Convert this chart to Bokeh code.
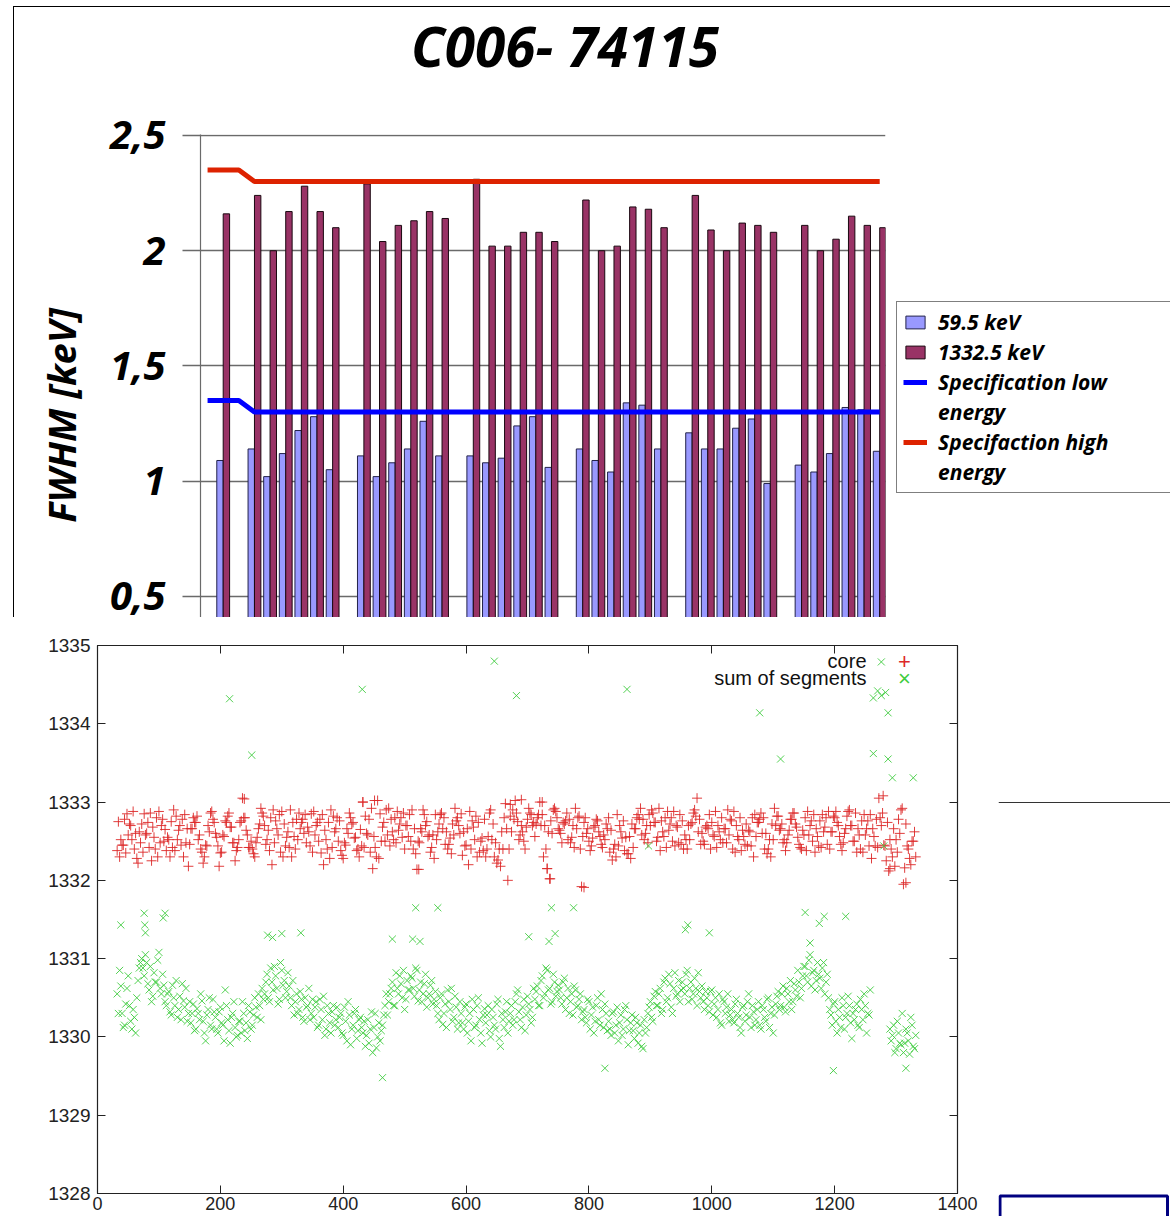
import numpy as np
from bokeh.plotting import figure
from bokeh.layouts import column, row
from bokeh.models import (Range1d, FixedTicker, LinearAxis, Label, BoxAnnotation, Span,
                          CustomJSTickFormatter, Legend, LegendItem, Div)
from bokeh.embed import file_html
from bokeh.resources import INLINE

nan = float("nan")

# ---------------- top chart data ----------------
title_text = "C006- 74115"
channels = ["core",
            "A1", "A2", "A3", "A4", "A5", "A6",
            "B1", "B2", "B3", "B4", "B5", "B6",
            "C1", "C2", "C3", "C4", "C5", "C6",
            "D1", "D2", "D3", "D4", "D5", "D6",
            "E1", "E2", "E3", "E4", "E5", "E6",
            "F1", "F2", "F3", "F4", "F5", "F6"]
fwhm_59 = [1.09,
           1.14, 1.02, 1.12, 1.22, 1.28, 1.05,
           1.11, 1.02, 1.08, 1.14, 1.26, 1.11,
           1.11, 1.08, 1.10, 1.24, 1.28, 1.06,
           1.14, 1.09, 1.04, 1.34, 1.33, 1.14,
           1.21, 1.14, 1.14, 1.23, 1.27, 0.99,
           1.07, 1.04, 1.12, 1.32, 1.31, 1.13]
fwhm_1332 = [2.16,
             2.24, 2.00, 2.17, 2.28, 2.17, 2.10,
             2.29, 2.04, 2.11, 2.13, 2.17, 2.14,
             2.31, 2.02, 2.02, 2.08, 2.08, 2.04,
             2.22, 2.00, 2.02, 2.19, 2.18, 2.10,
             2.24, 2.09, 2.00, 2.12, 2.11, 2.08,
             2.11, 2.00, 2.05, 2.15, 2.11, 2.10]
spec_low = [1.35, 1.35, 1.35, 1.30, 1.30, 1.30, 1.30, 1.30, 1.30, 1.30, 1.30,
            1.30, 1.30, 1.30, 1.30, 1.30, 1.30, 1.30, 1.30, 1.30, 1.30, 1.30,
            1.30, 1.30, 1.30, 1.30, 1.30, 1.30, 1.30, 1.30, 1.30, 1.30, 1.30,
            1.30, 1.30, 1.30, 1.30, 1.30, 1.30, 1.30, 1.30, 1.30, 1.30, 1.30]
spec_high = [2.35, 2.35, 2.35, 2.30, 2.30, 2.30, 2.30, 2.30, 2.30, 2.30, 2.30,
             2.30, 2.30, 2.30, 2.30, 2.30, 2.30, 2.30, 2.30, 2.30, 2.30, 2.30,
             2.30, 2.30, 2.30, 2.30, 2.30, 2.30, 2.30, 2.30, 2.30, 2.30, 2.30,
             2.30, 2.30, 2.30, 2.30, 2.30, 2.30, 2.30, 2.30, 2.30, 2.30, 2.30]
fwhm_ticks = [0.5, 1.0, 1.5, 2.0, 2.5]
fwhm_axis_title = "FWHM [keV]"
series_labels = ["59.5 keV", "1332.5 keV", "Specification low", "energy",
                 "Specifaction high", "energy"]

# ---------------- bottom chart data ----------------
# two interleaved samplings of the run index
core_a = [
    1332.38, 1332.30, 1332.45, 1332.78, 1332.85, 1332.72, 1332.52, 1332.40, 1332.28, 1332.62,
    1332.72, 1332.85, 1332.60, 1332.42, 1332.25, 1332.55, 1332.80, 1332.88, 1332.70, 1332.50,
    1332.38, 1332.52, 1332.75, 1332.90, 1332.82, 1332.64, 1332.45, 1332.30, 1332.48, 1332.18,
    1332.66, 1332.80, 1332.74, 1332.52, 1332.40, 1332.22, 1332.45, 1332.70, 1332.86, 1332.78,
    1332.60, 1332.44, 1332.35, 1332.58, 1332.76, 1332.82, 1332.68, 1332.48, 1332.25, 1332.42,
    1332.74, 1333.05, 1332.80, 1332.58, 1332.42, 1332.40, 1332.30, 1332.55, 1332.72, 1332.86,
    1332.70, 1332.52, 1332.38, 1332.20, 1332.48, 1332.66, 1332.84, 1332.88, 1332.72, 1332.55,
    1332.42, 1332.30, 1332.56, 1332.78, 1332.86, 1332.74, 1332.60, 1332.48, 1332.62, 1332.85,
    1332.88, 1332.70, 1332.50, 1332.35, 1332.20, 1332.52, 1332.74, 1332.90, 1332.82, 1332.66,
    1332.50, 1332.38, 1332.28, 1332.45, 1332.60, 1332.80, 1332.74, 1332.55, 1332.40, 1332.65,
    1333.00, 1332.82, 1332.58, 1332.36, 1332.15, 1332.42, 1333.02, 1332.85, 1332.68, 1332.50,
    1332.58, 1332.44, 1332.62, 1332.80, 1332.88, 1332.72, 1332.55, 1332.40, 1332.70, 1332.84,
    1332.90, 1332.66, 1332.14, 1332.48, 1332.62, 1332.84, 1332.75, 1332.58, 1332.42, 1332.28,
    1332.52, 1332.72, 1332.86, 1332.80, 1332.62, 1332.46, 1332.34, 1332.58, 1332.76, 1332.70,
    1332.85, 1332.62, 1332.45, 1332.20, 1332.40, 1332.68, 1332.82, 1332.74, 1332.50, 1332.38,
    1332.30, 1332.56, 1332.90, 1332.72, 1332.48, 1332.26, 1332.18, 1332.40, 1332.98, 1332.00,
    1332.82, 1332.90, 1333.02, 1332.75, 1332.58, 1332.62, 1332.40, 1332.78, 1332.86, 1332.70,
    1332.56, 1332.80, 1333.00, 1332.84, 1332.70, 1332.15, 1332.02, 1332.60, 1332.92, 1332.80,
    1332.64, 1332.48, 1332.72, 1332.86, 1332.78, 1332.55, 1332.42, 1332.66, 1332.82, 1331.92,
    1332.74, 1332.60, 1332.50, 1332.44, 1332.68, 1332.78, 1332.62, 1332.46, 1332.58, 1332.72,
    1332.80, 1332.64, 1332.40, 1332.30, 1332.44, 1332.62, 1332.76, 1332.55, 1332.34, 1332.28,
    1332.42, 1332.66, 1332.84, 1332.92, 1332.78, 1332.60, 1332.48, 1332.70, 1332.86, 1332.74,
    1332.55, 1332.38, 1332.62, 1332.80, 1332.88, 1332.72, 1332.50, 1332.44, 1332.68, 1332.84,
    1332.76, 1332.58, 1332.40, 1332.52, 1332.74, 1332.90, 1333.05, 1332.78, 1332.60, 1332.46,
    1332.70, 1332.84, 1332.74, 1332.56, 1332.42, 1332.62, 1332.80, 1332.66, 1332.48, 1332.58,
    1332.76, 1332.88, 1332.70, 1332.52, 1332.38, 1332.56, 1332.72, 1332.64, 1332.44, 1332.30,
    1332.56, 1332.74, 1332.86, 1332.80, 1332.60, 1332.40, 1332.30, 1332.52, 1332.70, 1332.82,
    1332.66, 1332.48, 1332.38, 1332.58, 1332.78, 1332.86, 1332.72, 1332.55, 1332.42, 1332.64,
    1332.80, 1332.88, 1332.70, 1332.50, 1332.36, 1332.56, 1332.76, 1332.84, 1332.68, 1332.46,
    1332.40, 1332.62, 1332.80, 1332.74, 1332.56, 1332.38, 1332.60, 1332.82, 1332.90, 1332.70,
    1332.50, 1332.36, 1332.58, 1332.76, 1332.84, 1332.66, 1332.44, 1332.28, 1332.56, 1332.78,
    1333.05, 1332.70, 1332.45, 1332.25, 1332.12, 1332.40, 1332.66, 1332.52, 1332.78, 1332.90,
    1331.95, 1332.72, 1332.40, 1332.20, 1332.50, 1332.30]
core_b = [
    1332.75, 1332.52, 1332.45, 1332.35, 1332.58, 1332.70, 1332.88, 1332.60, 1332.22, 1332.48,
    1332.36, 1332.58, 1332.74, 1332.86, 1332.68, 1332.40, 1332.30, 1332.48, 1332.78, 1332.65,
    1332.55, 1332.30, 1332.42, 1332.38, 1332.52, 1332.70, 1332.78, 1332.84, 1332.66, 1332.46,
    1332.66, 1332.74, 1332.82, 1332.58, 1332.36, 1332.30, 1332.44, 1332.62, 1332.88, 1332.74,
    1332.55, 1332.18, 1332.36, 1332.56, 1332.74, 1332.86, 1332.68, 1332.48, 1332.38, 1332.52,
    1332.76, 1332.80, 1332.64, 1332.42, 1332.50, 1332.34, 1332.48, 1332.66, 1332.92, 1332.82,
    1332.46, 1332.64, 1332.80, 1332.90, 1332.76, 1332.58, 1332.36, 1332.30, 1332.44, 1332.62,
    1332.90, 1332.74, 1332.40, 1332.52, 1332.66, 1332.78, 1332.84, 1332.68, 1332.44, 1332.36,
    1332.58, 1332.74, 1332.78, 1332.84, 1332.64, 1332.40, 1332.28, 1332.42, 1332.62, 1332.80,
    1332.76, 1332.32, 1332.48, 1332.66, 1332.86, 1332.72, 1332.54, 1332.38, 1332.30, 1332.44,
    1332.42, 1332.60, 1332.78, 1332.92, 1332.56, 1332.30, 1332.28, 1332.50, 1332.74, 1332.90,
    1332.92, 1332.78, 1332.52, 1332.48, 1332.64, 1332.80, 1332.86, 1332.70, 1332.56, 1332.50,
    1332.40, 1332.34, 1332.50, 1332.66, 1332.90, 1332.70, 1332.56, 1332.36, 1332.58, 1332.84,
    1332.62, 1332.84, 1332.66, 1332.46, 1332.40, 1332.54, 1332.72, 1332.92, 1332.80, 1332.60,
    1332.32, 1332.44, 1332.66, 1332.88, 1332.76, 1332.52, 1332.30, 1332.36, 1332.54, 1332.78,
    1332.40, 1332.86, 1332.52, 1332.30, 1332.22, 1332.40, 1332.62, 1332.80, 1332.66, 1332.40,
    1332.62, 1332.78, 1332.86, 1332.52, 1332.70, 1332.50, 1332.68, 1332.92, 1332.84, 1332.74,
    1332.72, 1332.84, 1332.70, 1332.30, 1332.40, 1332.62, 1332.76, 1332.90, 1332.88, 1332.66,
    1332.60, 1332.74, 1332.76, 1332.52, 1332.48, 1332.70, 1332.92, 1332.80, 1332.40, 1332.56,
    1332.80, 1332.66, 1332.38, 1332.54, 1332.70, 1332.76, 1332.56, 1332.42, 1332.52, 1332.66,
    1332.36, 1332.26, 1332.46, 1332.84, 1332.70, 1332.54, 1332.38, 1332.34, 1332.56, 1332.72,
    1332.66, 1332.80, 1332.78, 1332.58, 1332.52, 1332.70, 1332.84, 1332.90, 1332.74, 1332.50,
    1332.92, 1332.76, 1332.56, 1332.42, 1332.64, 1332.80, 1332.88, 1332.70, 1332.48, 1332.46,
    1332.40, 1332.52, 1332.70, 1332.72, 1332.86, 1332.82, 1332.62, 1332.46, 1332.50, 1332.68,
    1332.66, 1332.40, 1332.58, 1332.88, 1332.70, 1332.52, 1332.48, 1332.66, 1332.90, 1332.78,
    1332.40, 1332.36, 1332.56, 1332.80, 1332.64, 1332.46, 1332.44, 1332.62, 1332.80, 1332.84,
    1332.74, 1332.78, 1332.60, 1332.40, 1332.34, 1332.52, 1332.72, 1332.92, 1332.82, 1332.64,
    1332.72, 1332.52, 1332.48, 1332.64, 1332.78, 1332.86, 1332.68, 1332.46, 1332.40, 1332.58,
    1332.38, 1332.58, 1332.76, 1332.84, 1332.66, 1332.44, 1332.42, 1332.62, 1332.80, 1332.88,
    1332.62, 1332.82, 1332.88, 1332.70, 1332.46, 1332.48, 1332.66, 1332.88, 1332.70, 1332.50,
    1332.86, 1332.66, 1332.40, 1332.36, 1332.58, 1332.76, 1332.84, 1332.66, 1332.44, 1332.42,
    1332.80, 1332.86, 1332.44, 1332.74, 1332.52, 1332.30, 1332.18, 1332.36, 1332.60, 1332.92,
    1332.16, 1332.44, 1332.28, 1332.50, 1332.62]
sum_a = [
    1330.55, 1330.85, 1330.30, 1330.15, 1330.62, 1330.40, 1330.10, 1330.25, 1330.50, 1330.88,
    1331.00, 1330.78, 1330.95, 1330.60, 1330.45, 1330.82, 1330.70, 1331.08, 1330.55, 1330.66,
    1330.40, 1330.58, 1330.28, 1330.50, 1330.72, 1330.35, 1330.22, 1330.46, 1330.62, 1330.30,
    1330.18, 1330.42, 1330.10, 1330.30, 1330.55, 1330.20, 1329.95, 1330.35, 1330.15, 1330.48,
    1330.25, 1330.05, 1330.38, 1330.15, 1330.60, 1330.22, 1329.92, 1330.30, 1330.12, 1330.02,
    1330.20, 1330.45, 1330.08, 1329.98, 1330.32, 1330.15, 1330.50, 1330.25, 1330.40, 1330.62,
    1330.55, 1330.80, 1330.45, 1330.70, 1330.90, 1330.62, 1330.48, 1330.85, 1330.72, 1330.58,
    1330.65, 1330.40, 1330.28, 1330.55, 1330.35, 1330.48, 1330.20, 1330.38, 1330.62, 1330.30,
    1330.25, 1330.45, 1330.15, 1330.35, 1330.52, 1330.10, 1330.30, 1330.05, 1330.40, 1330.22,
    1330.12, 1330.30, 1330.02, 1330.20, 1330.45, 1329.90, 1330.15, 1330.35, 1330.08, 1330.25,
    1330.05, 1329.88, 1330.22, 1330.10, 1329.80, 1330.30, 1330.00, 1329.95, 1330.15, 1330.40,
    1330.28, 1330.55, 1330.70, 1330.40, 1330.62, 1330.78, 1330.50, 1330.35, 1330.72, 1330.60,
    1330.75, 1330.52, 1330.85, 1330.60, 1330.45, 1330.68, 1330.38, 1330.55, 1330.72, 1330.48,
    1330.40, 1330.22, 1330.55, 1330.30, 1330.12, 1330.45, 1330.62, 1330.25, 1330.38, 1330.18,
    1330.30, 1330.10, 1330.42, 1330.20, 1329.95, 1330.35, 1330.15, 1330.50, 1330.05, 1330.28,
    1330.18, 1330.40, 1330.00, 1330.25, 1330.10, 1330.48, 1329.88, 1330.22, 1330.32, 1330.05,
    1330.30, 1330.15, 1330.45, 1330.60, 1330.22, 1330.38, 1330.08, 1330.52, 1330.35, 1330.25,
    1330.48, 1330.65, 1330.40, 1330.78, 1330.55, 1330.85, 1330.62, 1330.45, 1330.70, 1330.58,
    1330.60, 1330.42, 1330.75, 1330.50, 1330.30, 1330.55, 1330.65, 1330.38, 1330.48, 1330.22,
    1330.35, 1330.18, 1330.45, 1330.28, 1330.05, 1330.40, 1330.22, 1330.55, 1330.12, 1330.30,
    1330.20, 1330.02, 1330.32, 1330.15, 1329.95, 1330.28, 1330.10, 1330.40, 1329.90, 1330.18,
    1330.08, 1330.25, 1329.92, 1330.15, 1329.85, 1330.05, 1330.30, 1330.45, 1330.20, 1330.58,
    1330.40, 1330.62, 1330.35, 1330.75, 1330.50, 1330.68, 1330.30, 1330.82, 1330.55, 1330.45,
    1330.70, 1330.55, 1330.85, 1330.62, 1330.48, 1330.75, 1330.40, 1330.58, 1330.65, 1330.35,
    1330.50, 1330.32, 1330.60, 1330.42, 1330.25, 1330.55, 1330.15, 1330.45, 1330.38, 1330.20,
    1330.35, 1330.18, 1330.48, 1330.25, 1330.05, 1330.40, 1330.28, 1330.55, 1330.12, 1330.32,
    1330.22, 1330.45, 1330.10, 1330.35, 1330.20, 1330.50, 1330.30, 1330.05, 1330.42, 1330.58,
    1330.40, 1330.65, 1330.32, 1330.55, 1330.72, 1330.45, 1330.60, 1330.85, 1330.50, 1330.78,
    1330.90, 1330.70, 1331.05, 1330.82, 1330.60, 1330.95, 1330.75, 1330.88, 1330.55, 1330.80,
    1330.35, 1330.15, 1330.45, 1330.05, 1330.25, 1330.50, 1330.10, 1330.30, 1330.40, 1329.98,
    1330.22, 1330.42, 1330.12, 1330.35, 1330.55, 1330.05, 1330.28, nan, nan, nan,
    nan, nan, nan, nan, nan, 1329.95, 1330.15, 1329.85, 1330.05, 1329.90,
    1329.80, 1330.10, 1329.95, 1330.25, 1329.88, 1330.02]
sum_b = [
    1330.30, 1330.65, 1330.12, 1330.42, 1330.78, 1330.20, 1330.35, 1330.05, 1330.72, 1330.95,
    1330.88, 1331.05, 1330.68, 1330.90, 1330.52, 1330.70, 1330.98, 1330.62, 1330.80, 1330.45,
    1330.55, 1330.32, 1330.66, 1330.40, 1330.25, 1330.52, 1330.68, 1330.38, 1330.20, 1330.45,
    1330.30, 1330.08, 1330.36, 1330.22, 1330.46, 1330.05, 1330.28, 1330.50, 1330.10, 1330.32,
    1330.10, 1330.32, 1330.18, 1329.95, 1330.40, 1330.08, 1330.25, 1330.45, 1330.00, 1330.20,
    1330.05, 1330.30, 1330.18, 1330.40, 1330.10, 1330.28, 1330.38, 1330.55, 1330.22, 1330.48,
    1330.70, 1330.50, 1330.88, 1330.60, 1330.78, 1330.42, 1330.95, 1330.66, 1330.50, 1330.82,
    1330.50, 1330.72, 1330.45, 1330.30, 1330.58, 1330.25, 1330.50, 1330.40, 1330.22, 1330.48,
    1330.38, 1330.12, 1330.48, 1330.22, 1330.02, 1330.40, 1330.18, 1330.32, 1330.15, 1330.38,
    1330.25, 1330.05, 1330.38, 1329.95, 1330.28, 1330.10, 1330.30, 1329.98, 1330.22, 1330.12,
    1330.20, 1330.02, 1329.92, 1330.32, 1330.12, 1329.86, 1330.18, 1330.08, 1330.28, 1330.55,
    1330.45, 1330.62, 1330.40, 1330.82, 1330.55, 1330.68, 1330.85, 1330.48, 1330.60, 1330.78,
    1330.62, 1330.88, 1330.46, 1330.70, 1330.55, 1330.80, 1330.50, 1330.66, 1330.42, 1330.58,
    1330.30, 1330.50, 1330.16, 1330.42, 1330.60, 1330.35, 1330.20, 1330.52, 1330.10, 1330.45,
    1330.18, 1330.38, 1330.05, 1330.30, 1330.48, 1330.12, 1330.40, 1330.22, 1329.92, 1330.36,
    1330.28, 1330.08, 1330.35, 1330.15, 1330.42, 1329.98, 1330.30, 1330.12, 1330.45, 1330.20,
    1330.40, 1330.22, 1330.55, 1330.32, 1330.12, 1330.48, 1330.28, 1330.42, 1330.18, 1330.62,
    1330.58, 1330.40, 1330.72, 1330.50, 1330.88, 1330.60, 1330.42, 1330.80, 1330.52, 1330.66,
    1330.50, 1330.70, 1330.35, 1330.62, 1330.45, 1330.28, 1330.60, 1330.40, 1330.55, 1330.32,
    1330.25, 1330.48, 1330.10, 1330.38, 1330.20, 1330.50, 1330.15, 1330.35, 1330.42, 1330.08,
    1330.10, 1330.30, 1330.05, 1330.38, 1330.18, 1330.02, 1330.35, 1330.22, 1330.08, 1330.28,
    1329.98, 1330.18, 1330.05, 1329.88, 1330.22, 1330.12, 1330.38, 1330.25, 1330.52, 1330.40,
    1330.55, 1330.30, 1330.70, 1330.45, 1330.80, 1330.38, 1330.62, 1330.52, 1330.72, 1330.60,
    1330.62, 1330.80, 1330.45, 1330.70, 1330.55, 1330.62, 1330.82, 1330.50, 1330.45, 1330.58,
    1330.40, 1330.58, 1330.28, 1330.50, 1330.35, 1330.18, 1330.48, 1330.30, 1330.55, 1330.28,
    1330.22, 1330.42, 1330.30, 1330.12, 1330.38, 1330.20, 1330.45, 1330.25, 1330.40, 1330.15,
    1330.35, 1330.15, 1330.40, 1330.25, 1330.48, 1330.12, 1330.38, 1330.28, 1330.52, 1330.35,
    1330.55, 1330.38, 1330.62, 1330.45, 1330.35, 1330.68, 1330.52, 1330.70, 1330.62, 1330.90,
    1330.78, 1330.98, 1330.65, 1330.85, 1330.72, 1330.80, 1330.62, 1330.95, 1330.70, 1330.50,
    1330.28, 1330.42, 1330.20, 1330.35, 1330.12, 1330.40, 1330.25, 1330.52, 1330.18, 1330.30,
    1330.35, 1330.15, 1330.48, 1330.22, 1330.40, 1330.30, 1330.60, nan, nan, nan,
    nan, nan, nan, nan, 1330.10, 1330.02, 1329.80, 1330.20, 1329.92, 1330.30,
    1329.92, 1330.05, 1329.78, 1330.15, 1329.85]
core_out_x = [239, 432, 451, 523, 672, 690, 724, 732, 737, 792, 1279, 1290, 1316]
core_out_y = [1333.04, 1333.00, 1333.02, 1332.14, 1332.97, 1333.03, 1333.00, 1332.15,
              1332.02, 1331.91, 1333.08, 1332.15, 1331.97]
sum_out_x = [38, 76, 77, 78, 107, 110, 215, 251, 277, 285, 300, 331, 431, 464, 480, 513,
             518, 525, 554, 646, 682, 702, 735, 739, 745, 775, 826, 862, 897, 957, 961, 996,
             1078, 1112, 1152, 1160, 1175, 1183, 1198, 1218, 1263, 1263, 1270, 1276, 1276,
             1280, 1283, 1287, 1287, 1294, 1316, 1328]
sum_out_y = [1331.43, 1331.58, 1331.43, 1331.33, 1331.52, 1331.58, 1334.32, 1333.60,
             1331.30, 1331.27, 1331.32, 1331.33, 1334.44, 1329.48, 1331.25, 1331.25,
             1331.65, 1331.22, 1331.65, 1334.80, 1334.36, 1331.28, 1331.22, 1331.65,
             1331.32, 1331.65, 1329.60, 1334.44, 1332.44, 1331.37, 1331.43, 1331.33,
             1334.14, 1333.55, 1331.59, 1331.20, 1331.45, 1331.54, 1329.57, 1331.54,
             1334.33, 1333.62, 1334.42, 1334.36, 1334.79, 1332.44, 1334.40, 1334.14,
             1333.55, 1333.31, 1329.60, 1333.31]
energy_ticks = [1328, 1329, 1330, 1331, 1332, 1333, 1334, 1335]
run_ticks = [0, 200, 400, 600, 800, 1000, 1200, 1400]
scatter_legend = ["core", "sum of segments"]

# ---------------- derived positions ----------------
def slot_of(name):
    if name == "core":
        return 0
    return 2 + 7 * "ABCDEF".index(name[0]) + int(name[1]) - 1

ch_slot = [slot_of(c) for c in channels]
spec_slot = list(range(-1, -1 + len(spec_low)))
run_a = list(range(32, 32 + 4 * len(core_a), 4))
run_b = list(range(34, 34 + 4 * len(core_b), 4))

GRID = "#6a6a6a"
C59, C59L = "#9999FF", "#22224a"
C1332, C1332L = "#993366", "#1a0810"
CLOW, CHIGH = "#0000FF", "#DD2200"

# ---------------- top figure (FWHM) ----------------
TH = 520
top = figure(width=881, height=TH, x_range=Range1d(-1.452, 42.37),
             y_range=Range1d(0.4088, 2.5043), x_axis_location=None, title=None,
             output_backend="svg", toolbar_location=None, frame_align=False)
top.min_border_left = 186
top.min_border_right = 10
top.min_border_top = 37
top.min_border_bottom = 0
top.outline_line_color = None
top.background_fill_color = "white"
top.border_fill_color = "white"
top.xgrid.visible = False

top.vbar(x=[s - 0.205 for s in ch_slot], width=0.41, top=fwhm_59, bottom=0,
         fill_color=C59, line_color=C59L, line_width=1)
top.vbar(x=[s + 0.205 for s in ch_slot], width=0.41, top=fwhm_1332, bottom=0,
         fill_color=C1332, line_color=C1332L, line_width=1)
top.line(spec_slot, spec_low, line_color=CLOW, line_width=5)
top.line(spec_slot, spec_high, line_color=CHIGH, line_width=5)

ya = top.yaxis[0]
ya.ticker = FixedTicker(ticks=fwhm_ticks)
ya.formatter = CustomJSTickFormatter(code="return tick.toString().replace('.', ',');")
ya.major_tick_out = 18
ya.major_tick_in = 0
ya.minor_tick_out = 0
ya.minor_tick_in = 0
ya.axis_line_color = GRID
ya.axis_line_width = 1.2
ya.major_tick_line_color = GRID
ya.major_tick_line_width = 1.5
ya.major_label_standoff = 17
ya.major_label_text_font = "Open Sans"
ya.major_label_text_font_size = "40px"
ya.major_label_text_font_style = "bold italic"
ya.major_label_text_color = "black"
ya.axis_label = fwhm_axis_title + "\u00a0" * 8
ya.axis_label_text_font = "Open Sans"
ya.axis_label_text_font_size = "38px"
ya.axis_label_text_font_style = "bold italic"
ya.axis_label_text_color = "black"
ya.axis_label_standoff = 20
top.ygrid.grid_line_color = GRID
top.ygrid.grid_line_width = 1.5

# legend panel to the right of the plot area (legend box runs off the slide edge);
# its key glyphs come from hidden, style-only stand-in renderers
leg = figure(width=275, height=TH, x_range=Range1d(0, 1), y_range=Range1d(0, 1),
             x_axis_location=None, y_axis_location=None, title=None,
             output_backend="svg", toolbar_location=None, min_border=0,
             frame_align=False)
leg.outline_line_color = None
leg.grid.visible = False
k59 = leg.vbar(x=[0.5], top=[0.5], width=0.1, fill_color=C59, line_color=C59L,
               visible=False)
k1332 = leg.vbar(x=[0.5], top=[0.5], width=0.1, fill_color=C1332, line_color=C1332L,
                 visible=False)
klow = leg.line(x=[0.4, 0.6], y=[0.5, 0.5], line_color=CLOW, line_width=5, visible=False)
khigh = leg.line(x=[0.4, 0.6], y=[0.5, 0.5], line_color=CHIGH, line_width=5, visible=False)
kblank = leg.line(x=[0.4, 0.6], y=[0.5, 0.5], line_alpha=0, visible=False)
legend = Legend(items=[LegendItem(label=series_labels[0], renderers=[k59]),
                       LegendItem(label=series_labels[1], renderers=[k1332]),
                       LegendItem(label=series_labels[2], renderers=[klow]),
                       LegendItem(label=series_labels[3], renderers=[kblank]),
                       LegendItem(label=series_labels[4], renderers=[khigh]),
                       LegendItem(label=series_labels[5], renderers=[kblank])],
                location=(1, 124.5), orientation="vertical", margin=0, padding=6,
                spacing=2, label_standoff=11, glyph_width=24, glyph_height=16,
                label_width=240, label_text_font="Open Sans", label_text_font_size="21px",
                label_text_font_style="bold italic", label_text_line_height=1.35,
                label_text_color="black", border_line_color="black", border_line_width=1,
                background_fill_color="white", background_fill_alpha=1.0,
                inactive_fill_alpha=0.0)
leg.add_layout(legend)

title_div = Div(text=('<div style="margin:11px 0 0 397px; font-family:\'Open Sans\';'
                      ' font-size:55px; font-weight:bold; font-style:italic; line-height:1;'
                      ' white-space:nowrap; color:#000;">' + title_text + '</div>'),
                width=1156, height=90, margin=0)

top_section = column(title_div, row(top, leg, spacing=0), spacing=0, margin=(6, 0, 0, 13),
                     styles={"border-left": "1px solid #000", "border-top": "1px solid #000"})

# ---------------- bottom figure (peak positions) ----------------
bot = figure(width=998, height=599, x_range=Range1d(0, 1400), y_range=Range1d(1328, 1335),
             title=None, output_backend="svg", toolbar_location=None, frame_align=False)
bot.min_border_left = 97
bot.min_border_right = 41
bot.min_border_top = 28
bot.min_border_bottom = 23
bot.outline_line_color = "#222222"
bot.outline_line_width = 1.2
bot.background_fill_color = "white"
bot.border_fill_color = "white"
bot.xgrid.visible = False
bot.ygrid.visible = False

AX = "#222222"
xa = bot.xaxis[0]
xa.ticker = FixedTicker(ticks=run_ticks)
yb = bot.yaxis[0]
yb.ticker = FixedTicker(ticks=energy_ticks)
for ax in (xa, yb):
    ax.major_tick_in = 8
    ax.major_tick_out = 0
    ax.minor_tick_in = 0
    ax.minor_tick_out = 0
    ax.axis_line_color = AX
    ax.major_tick_line_color = AX
    ax.major_label_text_font = "Liberation Sans"
    ax.major_label_text_color = "#222222"
xa.major_label_text_font_size = "18px"
xa.major_label_standoff = 3
yb.major_label_text_font_size = "19px"
yb.major_label_standoff = 7

for loc, tk in (("above", run_ticks), ("right", energy_ticks)):
    ax = LinearAxis(ticker=FixedTicker(ticks=tk),
                    formatter=CustomJSTickFormatter(code="return '';"),
                    major_label_standoff=0, axis_line_color=None, major_tick_in=8,
                    major_tick_out=0, minor_tick_in=0, minor_tick_out=0,
                    major_tick_line_color=AX)
    bot.add_layout(ax, loc)

RED = "#dd2828"
GREEN = "#40cc40"
for xs, ys in ((run_a, core_a), (run_b, core_b), (core_out_x, core_out_y)):
    bot.scatter(xs, np.array(ys, dtype=float), marker="cross", size=10,
                line_color=RED, line_width=1, line_alpha=0.9)
for xs, ys in ((run_a, sum_a), (run_b, sum_b), (sum_out_x, sum_out_y)):
    bot.scatter(xs, np.array(ys, dtype=float), marker="x", size=10,
                line_color=GREEN, line_width=1, line_alpha=0.9)

# gnuplot-style key: text, then sample
def clabel(fig, x, y, text, size, align, color):
    fig.add_layout(Label(x=x, y=y, x_units="canvas", y_units="canvas", text=text,
                         text_align=align, text_baseline="alphabetic",
                         text_font="Liberation Sans", text_font_size=size,
                         text_color=color))

clabel(bot, 866, 43, scatter_legend[0], "20px", "right", "#111111")
clabel(bot, 866, 60, scatter_legend[1], "20px", "right", "#111111")
clabel(bot, 904, 44, "+", "22px", "center", RED)
clabel(bot, 904, 61, "\u00d7", "22px", "center", GREEN)

# ---------------- strip right of the scatter plot ----------------
strip = figure(width=172, height=599, x_range=Range1d(0, 172), y_range=Range1d(599, 0),
               x_axis_location=None, y_axis_location=None, title=None,
               output_backend="svg", toolbar_location=None, min_border=0,
               frame_align=False)
strip.outline_line_color = None
strip.grid.visible = False
strip.add_layout(Span(location=185, dimension="width", line_color="#333333", line_width=1))
strip.add_layout(BoxAnnotation(left=1.5, right=169, top=578.5, bottom=700,
                               fill_alpha=0.0, line_color="#000080", line_alpha=1.0,
                               line_width=3))

layout = column(top_section, row(bot, strip, spacing=0), spacing=0)
open("out.html", "w").write(file_html(layout, INLINE))
